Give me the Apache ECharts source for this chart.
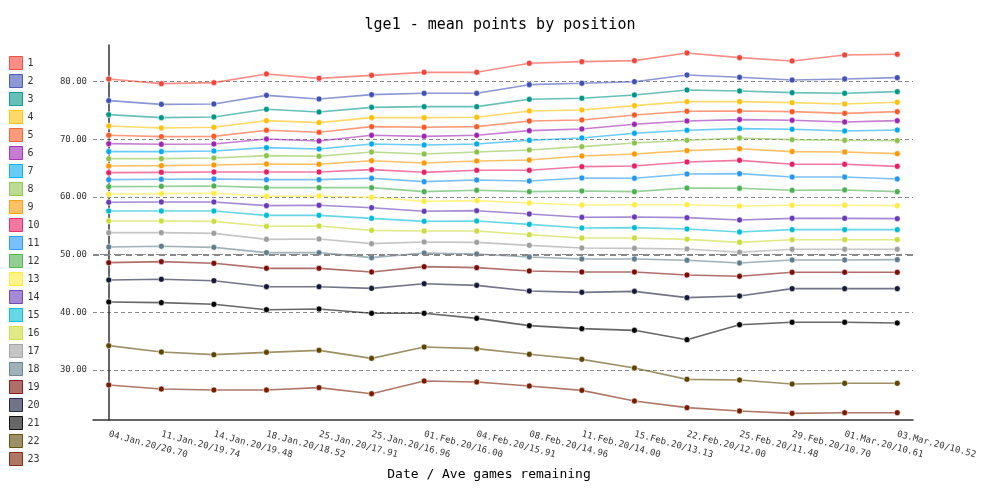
<!DOCTYPE html>
<html>
<head>
<meta charset="utf-8">
<script src="https://cdn.jsdelivr.net/npm/echarts@6/dist/echarts.min.js"></script>
<style>html,body{margin:0;padding:0;background:#fff}#c{width:1000px;height:500px}</style>
</head>
<body>
<div id="c"></div>
<script>
const categories = ['04.Jan.20/20.70','11.Jan.20/19.74','14.Jan.20/19.48','18.Jan.20/18.52','25.Jan.20/17.91','25.Jan.20/16.96','01.Feb.20/16.00','04.Feb.20/15.91','08.Feb.20/14.96','11.Feb.20/14.00','15.Feb.20/13.13','22.Feb.20/12.00','25.Feb.20/11.48','29.Feb.20/10.70','01.Mar.20/10.61','03.Mar.20/10.52'];
const yTicks = [30, 40, 50, 60, 70, 80];
const p1  = [80.47,79.66,79.83,81.34,80.58,81.10,81.62,81.62,83.19,83.47,83.65,84.98,84.17,83.59,84.63,84.75];
const p2  = [76.71,76.07,76.13,77.63,77.00,77.75,77.98,77.98,79.48,79.72,80.00,81.16,80.76,80.29,80.47,80.70];
const p3  = [74.28,73.76,73.88,75.21,74.75,75.55,75.67,75.67,76.94,77.12,77.69,78.56,78.39,78.10,77.98,78.27];
const p4  = [72.32,71.97,72.09,73.24,72.90,73.76,73.76,73.82,74.92,75.09,75.84,76.54,76.54,76.36,76.13,76.42];
const p5  = [70.70,70.47,70.52,71.57,71.22,72.20,72.09,72.20,73.18,73.36,74.22,74.86,74.92,74.80,74.51,74.80];
const p6  = [69.25,69.14,69.20,70.06,69.72,70.70,70.52,70.70,71.51,71.80,72.61,73.18,73.42,73.30,73.01,73.24];
const p7  = [67.87,67.87,67.98,68.56,68.33,69.20,69.02,69.20,69.83,70.24,71.05,71.57,71.86,71.74,71.45,71.62];
const p8  = [66.65,66.65,66.77,67.17,67.06,67.81,67.46,67.81,68.16,68.73,69.37,69.83,70.24,69.95,69.83,69.77];
const p9  = [65.38,65.44,65.55,65.73,65.67,66.30,65.90,66.25,66.42,67.11,67.46,68.04,68.38,67.87,67.81,67.52];
const p10 = [64.22,64.28,64.34,64.34,64.34,64.74,64.28,64.63,64.63,65.26,65.38,66.07,66.36,65.67,65.67,65.32];
const p11 = [63.01,63.07,63.13,63.01,63.01,63.24,62.66,62.95,62.78,63.30,63.24,63.99,64.05,63.47,63.47,63.13];
const p12 = [61.80,61.85,61.91,61.62,61.62,61.62,60.93,61.16,60.93,61.04,60.93,61.56,61.51,61.16,61.22,60.93];
const p13 = [60.47,60.58,60.64,60.12,60.18,59.95,59.25,59.37,58.96,58.62,58.67,58.67,58.44,58.56,58.56,58.50];
const p14 = [59.08,59.14,59.14,58.50,58.56,58.15,57.52,57.63,57.06,56.48,56.54,56.42,56.02,56.30,56.30,56.25];
const p15 = [57.58,57.58,57.58,56.82,56.82,56.30,55.78,55.84,55.26,54.63,54.69,54.45,53.94,54.34,54.34,54.34];
const p16 = [55.84,55.84,55.78,54.92,54.97,54.22,54.11,54.11,53.47,52.89,52.89,52.66,52.14,52.60,52.60,52.60];
const p17 = [53.82,53.82,53.70,52.66,52.72,51.91,52.20,52.14,51.62,51.16,51.10,50.99,50.41,50.93,50.93,50.93];
const p18 = [51.33,51.45,51.27,50.35,50.35,49.48,50.29,50.12,49.60,49.25,49.25,49.02,48.56,49.08,49.08,49.14];
const p19 = [48.62,48.79,48.50,47.63,47.63,47.00,47.92,47.75,47.17,47.00,47.00,46.48,46.26,46.94,46.94,46.94];
const p20 = [45.61,45.73,45.49,44.45,44.45,44.16,44.97,44.68,43.70,43.47,43.64,42.55,42.83,44.11,44.11,44.11];
const p21 = [41.79,41.68,41.39,40.46,40.58,39.83,39.83,38.96,37.69,37.17,36.88,35.26,37.86,38.27,38.27,38.15];
const p22 = [34.22,33.12,32.66,33.06,33.41,32.02,33.99,33.70,32.72,31.85,30.35,28.38,28.27,27.57,27.69,27.69];
const p23 = [27.40,26.70,26.53,26.53,26.94,25.89,28.09,27.92,27.22,26.47,24.62,23.47,22.89,22.48,22.60,22.60];
const seriesNames = ['1','2','3','4','5','6','7','8','9','10','11','12','13','14','15','16','17','18','19','20','21','22','23'];
const palette = ['#F44336','#3F51B5','#009688','#FFC107','#FF5722','#9C27B0','#03A9F4','#8BC34A','#FF9800','#E91E63','#2196F3','#4CAF50','#FFEB3B','#673AB7','#00BCD4','#CDDC39','#9E9E9E','#607D8B','#7b0f07','#141938','#000000','#5e4600','#791d00'];

const allValues = [p1,p2,p3,p4,p5,p6,p7,p8,p9,p10,p11,p12,p13,p14,p15,p16,p17,p18,p19,p20,p21,p22,p23];
const FONT = "'DejaVu Sans Mono', monospace";

function fade(hex, a) {
  const r = parseInt(hex.slice(1,3),16), g = parseInt(hex.slice(3,5),16), b = parseInt(hex.slice(5,7),16);
  return 'rgba(' + r + ',' + g + ',' + b + ',' + a + ')';
}

const series = allValues.map((vals, i) => ({
  name: seriesNames[i],
  type: 'line',
  data: vals.map((v, j) => [j, v]),
  symbol: 'circle',
  symbolSize: 6,
  z: 3,
  itemStyle: { color: palette[i], borderColor: 'rgba(255,255,255,0.6)', borderWidth: 1 },
  lineStyle: { color: fade(palette[i], 0.6), width: 1.6 },
  emphasis: { disabled: true }
}));
series.push({
  name: 'major',
  type: 'line',
  data: [],
  z: 1,
  silent: true,
  markLine: {
    silent: true,
    symbol: 'none',
    label: { show: false },
    lineStyle: { color: '#888', width: 2.2, type: [6, 5] },
    data: [{ yAxis: 50 }]
  }
});

const chart = echarts.init(document.getElementById('c'));
chart.setOption({
  animation: false,
  color: palette,
  title: {
    text: 'lge1 - mean points by position',
    left: 'center', top: 13,
    textStyle: { fontFamily: FONT, fontSize: 15, fontWeight: 'normal', color: '#000' }
  },
  legend: {
    orient: 'vertical', left: 4, top: 51,
    itemWidth: 13, itemHeight: 13, itemGap: 4,
    icon: 'rect',
    textStyle: { fontFamily: FONT, fontSize: 10, color: '#333' },
    data: seriesNames.map((n, i) => ({
      name: n,
      itemStyle: { color: fade(palette[i], 0.6), borderColor: fade(palette[i], 0.9), borderWidth: 1 }
    }))
  },
  grid: { left: 93, right: 87, top: 45, bottom: 80, containLabel: false },
  xAxis: {
    type: 'value',
    min: -0.3, max: 15.3,
    minInterval: 1, maxInterval: 1,
    name: 'Date / Ave games remaining',
    nameLocation: 'middle', nameGap: 48,
    nameTextStyle: { fontFamily: FONT, fontSize: 13, color: '#000', padding: [0, 28, 0, 0] },
    axisLine: { onZero: false, lineStyle: { color: '#333', width: 1.5 } },
    axisTick: { show: false },
    splitLine: { show: false },
    axisLabel: {
      rotate: -15, margin: 14,
      fontFamily: FONT, fontSize: 9, color: '#333',
      showMinLabel: false, showMaxLabel: false,
      formatter: v => (Number.isInteger(v) && categories[v]) ? categories[v] : ''
    }
  },
  yAxis: {
    type: 'value',
    min: 21.33, max: 86.36,
    axisLine: { show: true, onZero: true, lineStyle: { color: '#333', width: 1.5 } },
    axisTick: { show: false },
    splitLine: { show: true, showMinLine: false, showMaxLine: false, lineStyle: { color: '#888', width: 1, type: [4, 3] } },
    axisLabel: {
      margin: 6, fontFamily: FONT, fontSize: 9, color: '#333',
      showMinLabel: false, showMaxLabel: false,
      formatter: v => yTicks.includes(Math.round(v * 100) / 100) ? v.toFixed(2) : ''
    }
  },
  series: series
});
</script>
</body>
</html>
